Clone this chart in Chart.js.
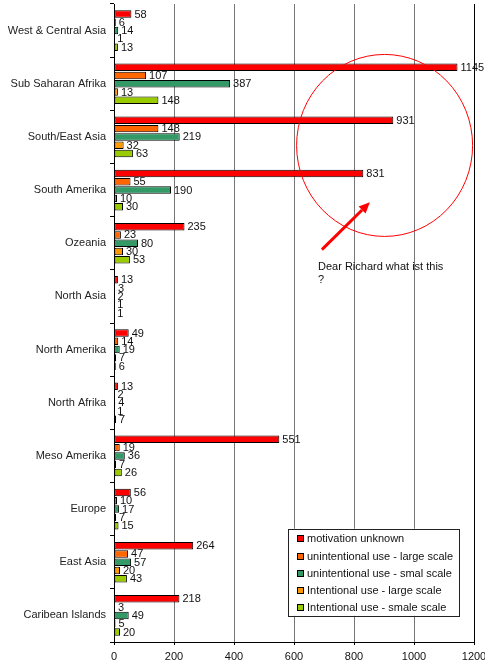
<!DOCTYPE html>
<html>
<head>
<meta charset="utf-8">
<script src="https://cdn.jsdelivr.net/npm/chart.js@4.4.0/dist/chart.umd.min.js"></script>
<style>
    html, body { margin: 0; padding: 0; background: #fff; }
    #wrap { width: 485px; height: 666px; position: relative; }
</style>
</head>
<body>
<div id="wrap"><canvas id="regionChart"></canvas></div>
<script>
// categories (top to bottom)
const regions = [
    'West & Central Asia', 'Sub Saharan Afrika', 'South/East Asia', 'South Amerika',
    'Ozeania', 'North Asia', 'North Amerika', 'North Afrika',
    'Meso Amerika', 'Europe', 'East Asia', 'Caribean Islands'
];

const seriesNames = [
    'motivation unknown',
    'unintentional use - large scale',
    'unintentional use - smal scale',
    'Intentional use - large scale',
    'Intentional use - smale scale'
];

const seriesColors = ['#ff0000', '#ff6600', '#339966', '#ff9900', '#99cc00'];

const motivationUnknown   = [58, 1145, 931, 831, 235, 13, 49, 13, 551, 56, 264, 218];
const unintentionalLarge  = [6, 107, 148, 55, 23, 3, 14, 2, 19, 10, 47, 3];
const unintentionalSmall  = [14, 387, 219, 190, 80, 2, 19, 4, 36, 17, 57, 49];
const intentionalLarge    = [1, 13, 32, 10, 30, 1, 7, 1, 7, 7, 20, 5];
const intentionalSmall    = [13, 148, 63, 30, 53, 1, 6, 7, 26, 15, 43, 20];

const xTicks = [0, 200, 400, 600, 800, 1000, 1200];

const noteLines = ['Dear Richard what ist this', '?'];

const FONT = 'Arial, "Liberation Sans", sans-serif';


// 막대 끝 값 표시
const valueLabelPlugin = {
    id: 'valueLabels',
    afterDatasetsDraw(chart) {
        const ctx = chart.ctx;
        ctx.save();
        ctx.font = '11px ' + FONT;
        ctx.fillStyle = '#111';
        ctx.textAlign = 'left';
        ctx.textBaseline = 'middle';
        chart.data.datasets.forEach(function(ds, i) {
            const meta = chart.getDatasetMeta(i);
            meta.data.forEach(function(bar, j) {
                ctx.fillText(String(ds.data[j]), bar.x + 3, bar.y + 0.5);
            });
        });
        ctx.restore();
    }
};


// 범례 박스 + 메모
const overlayPlugin = {
    id: 'overlay',
    afterDraw(chart) {
        const ctx = chart.ctx;
        const xs = chart.scales.x;
        const ys = chart.scales.y;

        // legend box
        const bx = xs.getPixelForValue(580);
        const by = ys.getPixelForValue(9.37);
        const bw = 171;
        const bh = 87;
        ctx.save();
        ctx.fillStyle = '#fff';
        ctx.fillRect(bx, by, bw, bh);
        ctx.strokeStyle = '#222';
        ctx.lineWidth = 1;
        ctx.strokeRect(Math.round(bx) + 0.5, Math.round(by) + 0.5, bw, bh);

        ctx.font = '11px ' + FONT;
        ctx.textBaseline = 'middle';
        ctx.textAlign = 'left';
        chart.data.datasets.forEach(function(ds, i) {
            const cy = Math.round(by + 9.5 + i * 17.3);
            ctx.fillStyle = ds.backgroundColor;
            ctx.fillRect(Math.round(bx) + 9, cy - 3, 7, 7);
            ctx.strokeStyle = '#000';
            ctx.strokeRect(Math.round(bx) + 9.5, cy - 2.5, 6, 6);
            ctx.fillStyle = '#111';
            ctx.fillText(ds.label, Math.round(bx) + 19, cy + 1);
        });

        // red circle
        const cx = xs.getPixelForValue(902);
        const cy = ys.getPixelForValue(2.16);
        ctx.strokeStyle = '#ff0000';
        ctx.lineWidth = 1;
        ctx.beginPath();
        ctx.ellipse(cx, cy, 88, 91, 0, 0, Math.PI * 2);
        ctx.stroke();

        // arrow
        const x1 = xs.getPixelForValue(693);
        const y1 = ys.getPixelForValue(4.12);
        const x2 = xs.getPixelForValue(853);
        const y2 = ys.getPixelForValue(3.23);
        const ang = Math.atan2(y2 - y1, x2 - x1);
        const headLen = 11;
        const hx = x2 - headLen * Math.cos(ang);
        const hy = y2 - headLen * Math.sin(ang);
        ctx.strokeStyle = '#ff0000';
        ctx.lineWidth = 3;
        ctx.beginPath();
        ctx.moveTo(x1, y1);
        ctx.lineTo(hx, hy);
        ctx.stroke();
        ctx.fillStyle = '#ff0000';
        ctx.beginPath();
        ctx.moveTo(x2, y2);
        ctx.lineTo(hx + 5 * Math.sin(ang), hy - 5 * Math.cos(ang));
        ctx.lineTo(hx - 5 * Math.sin(ang), hy + 5 * Math.cos(ang));
        ctx.closePath();
        ctx.fill();

        // note text
        ctx.fillStyle = '#111';
        ctx.font = '11px ' + FONT;
        ctx.textBaseline = 'middle';
        const tx = xs.getPixelForValue(680);
        const ty = ys.getPixelForValue(4.45);
        noteLines.forEach(function(line, k) {
            ctx.fillText(line, tx, ty + k * 13);
        });
        ctx.restore();
    }
};


const seriesData = [motivationUnknown, unintentionalLarge, unintentionalSmall, intentionalLarge, intentionalSmall];

const datasets = seriesNames.map(function(name, i) {
    return {
        label: name,
        data: seriesData[i],
        backgroundColor: seriesColors[i],
        borderColor: '#000',
        borderWidth: 1,
        borderSkipped: false,
        categoryPercentage: 0.78,
        barPercentage: 0.9
    };
});

new Chart(document.getElementById('regionChart').getContext('2d'), {
    type: 'bar',
    data: {
        labels: regions,
        datasets: datasets
    },
    options: {
        indexAxis: 'y',
        responsive: true,
        maintainAspectRatio: false,
        animation: false,
        layout: {
            padding: { left: 0, right: 11, top: 4, bottom: 0 }
        },
        plugins: {
            legend: { display: false },
            tooltip: { enabled: false }
        },
        scales: {
            x: {
                min: 0,
                max: 1200,
                afterBuildTicks: function(axis) {
                    axis.ticks = xTicks.map(function(v) { return { value: v }; });
                },
                afterFit: function(axis) {
                    axis.height = 24;
                    axis.paddingLeft = 0;
                    axis.paddingRight = 0;
                },
                border: { display: true, color: '#000', width: 1 },
                grid: {
                    color: function(c) {
                        return c.tick && c.tick.value === 1200 ? '#000' : '#777';
                    },
                    lineWidth: 1,
                    drawTicks: true,
                    tickLength: 3,
                    tickColor: '#000'
                },
                ticks: {
                    color: '#111',
                    padding: 5,
                    autoSkip: false,
                    maxRotation: 0,
                    font: { family: FONT, size: 11 },
                    callback: function(v) { return String(v); }
                }
            },
            y: {
                afterFit: function(axis) {
                    axis.width = 114;
                    axis.paddingTop = 0;
                    axis.paddingBottom = 0;
                },
                border: { display: true, color: '#000', width: 1 },
                grid: {
                    drawOnChartArea: false,
                    drawTicks: true,
                    tickLength: 4,
                    color: '#000'
                },
                ticks: {
                    color: '#222',
                    padding: 4,
                    font: { family: FONT, size: 11 }
                }
            }
        }
    },
    plugins: [valueLabelPlugin, overlayPlugin]
});
</script>
</body>
</html>
